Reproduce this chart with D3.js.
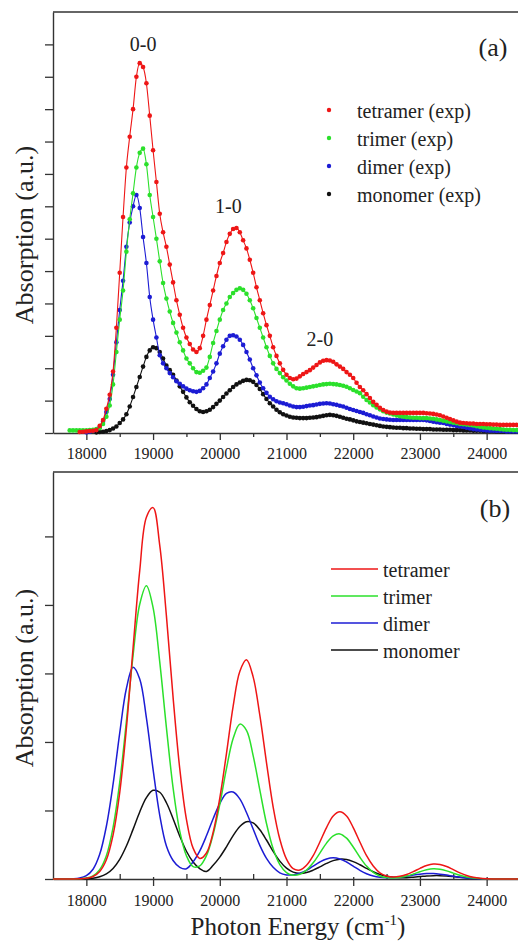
<!DOCTYPE html>
<html><head><meta charset="utf-8">
<script src="https://cdn.jsdelivr.net/npm/d3@7"></script>
<style>
body{margin:0;background:#fff}
</style>
</head><body><svg id="c" width="518" height="942"></svg>
<script>
// ---------- DATA ----------
const energyExp = [
17750,17800,17850,17900,17950,18000,18050,18100,18150,18200,
18250,18300,18350,18400,18450,18500,18550,18600,18650,18700,
18750,18800,18850,18900,18950,19000,19050,19100,19150,19200,
19250,19300,19350,19400,19450,19500,19550,19600,19650,19700,
19750,19800,19850,19900,19950,20000,20050,20100,20150,20200,
20250,20300,20350,20400,20450,20500,20550,20600,20650,20700,
20750,20800,20850,20900,20950,21000,21050,21100,21150,21200,
21250,21300,21350,21400,21450,21500,21550,21600,21650,21700,
21750,21800,21850,21900,21950,22000,22050,22100,22150,22200,
22250,22300,22350,22400,22450,22500,22550,22600,22650,22700,
22750,22800,22850,22900,22950,23000,23050,23100,23150,23200,
23250,23300,23350,23400,23450,23500,23550,23600,23650,23700,
23750,23800,23850,23900,23950,24000,24050,24100,24150,24200,
24250,24300,24350,24400,24450,24500];
const tetramerExp = [
null,null,null,0.03,0.04,0.05,0.06,0.07,0.09,0.22,
0.40,0.75,1.18,1.9,3.25,4.95,6.67,8.2,9.15,10.0,
11.0,11.42,11.3,10.8,9.8,8.73,7.75,6.77,6.2,5.75,
5.2,4.65,4.1,3.65,3.25,2.95,2.75,2.58,2.5,2.62,
3.0,3.5,3.95,4.4,4.85,5.25,5.56,5.9,6.15,6.3,
6.33,6.2,5.95,5.7,5.35,4.95,4.5,4.1,3.7,3.33,
3.0,2.65,2.38,2.15,1.95,1.8,1.7,1.66,1.68,1.75,
1.82,1.88,1.94,2.02,2.1,2.18,2.23,2.25,2.24,2.2,
2.12,2.05,1.98,1.88,1.8,1.7,1.55,1.42,1.32,1.2,
1.08,0.96,0.87,0.78,0.71,0.66,0.63,0.62,0.62,0.62,
0.62,0.62,0.62,0.62,0.62,0.62,0.62,0.61,0.6,0.59,
0.57,0.55,0.51,0.47,0.43,0.39,0.35,0.32,0.31,0.3,
0.29,0.29,0.28,0.28,0.28,0.27,0.27,0.26,0.26,0.25,
0.25,0.25,0.25,0.25,0.25,0.25];
const trimerExp = [
0.08,0.08,0.08,0.08,0.08,0.08,0.09,0.1,0.12,0.15,
0.28,0.5,0.85,1.5,2.5,3.5,4.4,5.6,6.6,7.4,
8.2,8.65,8.78,8.3,7.35,6.67,6.0,5.3,4.63,4.15,
3.75,3.4,3.1,2.8,2.55,2.3,2.15,2.0,1.88,1.86,
1.92,2.02,2.35,2.78,3.15,3.5,3.8,4.0,4.2,4.32,
4.42,4.47,4.42,4.3,4.1,3.85,3.55,3.25,2.95,2.65,
2.38,2.15,1.98,1.85,1.72,1.62,1.52,1.44,1.38,1.37,
1.38,1.4,1.42,1.44,1.46,1.48,1.5,1.51,1.52,1.51,
1.5,1.48,1.46,1.43,1.38,1.33,1.28,1.23,1.12,1.02,
0.94,0.86,0.79,0.73,0.67,0.63,0.6,0.57,0.54,0.52,
0.5,0.49,0.48,0.47,0.47,0.46,0.46,0.46,0.45,0.44,
0.42,0.4,0.38,0.36,0.34,0.32,0.3,0.28,0.27,0.26,
0.25,0.23,0.21,0.19,0.17,0.16,0.15,0.14,0.13,0.12,
0.11,0.1,0.1,0.09,0.09,0.09];
const dimerExp = [
null,null,null,null,null,0.02,0.04,0.07,0.1,0.18,
0.35,0.65,1.05,1.8,2.8,3.8,4.7,5.75,6.5,7.0,
7.35,6.95,6.05,5.25,4.2,3.5,2.95,2.4,2.15,2.0,
1.85,1.72,1.6,1.52,1.44,1.37,1.32,1.29,1.27,1.3,
1.38,1.5,1.7,1.9,2.15,2.45,2.68,2.88,3.0,3.02,
2.98,2.88,2.72,2.5,2.27,2.0,1.78,1.56,1.38,1.24,
1.12,1.04,0.98,0.94,0.92,0.89,0.85,0.82,0.8,0.8,
0.81,0.83,0.85,0.86,0.88,0.9,0.91,0.92,0.91,0.89,
0.87,0.84,0.82,0.78,0.74,0.71,0.68,0.65,0.62,0.58,
0.55,0.51,0.48,0.45,0.43,0.42,0.41,0.4,0.4,0.4,
0.4,0.4,0.4,0.4,0.4,0.4,0.4,0.39,0.37,0.35,
0.33,0.32,0.31,0.28,0.26,0.24,0.22,0.2,0.19,0.16,
0.14,0.12,0.11,0.1,0.09,0.08,0.07,0.07,0.06,0.06,
0.06,0.05,0.05,0.05,0.05,0.05];
const monomerExp = [
null,null,null,null,null,null,null,null,0.02,0.03,
0.04,0.06,0.09,0.14,0.2,0.31,0.42,0.58,0.82,1.11,
1.42,1.73,2.05,2.35,2.55,2.65,2.62,2.5,2.3,2.08,
1.94,1.8,1.62,1.44,1.27,1.1,0.95,0.84,0.74,0.67,
0.65,0.67,0.72,0.8,0.9,1.0,1.11,1.22,1.32,1.42,
1.5,1.56,1.61,1.64,1.63,1.58,1.48,1.36,1.2,1.05,
0.92,0.82,0.72,0.64,0.58,0.54,0.5,0.48,0.47,0.46,
0.46,0.46,0.47,0.48,0.49,0.51,0.53,0.55,0.56,0.55,
0.53,0.5,0.47,0.44,0.42,0.39,0.36,0.34,0.32,0.3,
0.28,0.26,0.24,0.22,0.2,0.19,0.18,0.17,0.16,0.16,
0.15,0.15,0.14,0.14,0.13,0.13,0.12,0.12,0.12,0.11,
0.11,0.11,0.1,0.1,0.1,0.09,0.09,0.09,0.08,0.08,
0.08,0.07,0.07,0.07,0.06,0.06,0.06,0.06,0.05,0.05,
0.05,0.05,0.05,0.05,0.05,0.05];

const energyTheory = [
17500,17600,17700,17800,17900,18000,18100,18200,18300,18400,
18500,18600,18700,18800,18900,19000,19100,19200,19300,19400,
19500,19600,19700,19800,19900,20000,20100,20200,20300,20400,
20500,20600,20700,20800,20900,21000,21100,21200,21300,21400,
21500,21600,21700,21800,21900,22000,22100,22200,22300,22400,
22500,22600,22700,22800,22900,23000,23100,23200,23300,23400,
23500,23600,23700,23800,23900,24000,24100,24200,24300,24400,
24500];
const tetramerTheory = [
0,0,0,0,0.003,0.011,0.037,0.11,0.28,0.64,
1.26,2.2,3.37,4.5,5.28,5.42,4.87,3.84,2.65,1.61,
0.87,0.45,0.30,0.38,0.68,1.18,1.83,2.52,3.03,3.2,
2.95,2.39,1.7,1.05,0.58,0.29,0.15,0.13,0.2,0.34,
0.54,0.75,0.92,0.98,0.92,0.75,0.54,0.34,0.19,0.09,
0.045,0.03,0.04,0.065,0.107,0.155,0.197,0.219,0.213,0.182,
0.136,0.089,0.051,0.026,0.011,0.004,0.001,0,0,0,
0];
const trimerTheory = [
0,0,0,0.001,0.004,0.014,0.047,0.137,0.34,0.75,
1.41,2.30,3.26,4.01,4.28,3.96,3.17,2.21,1.33,0.70,
0.34,0.18,0.19,0.34,0.65,1.09,1.61,2.05,2.26,2.17,
1.80,1.30,0.81,0.44,0.21,0.094,0.055,0.069,0.13,0.236,
0.378,0.524,0.63,0.658,0.596,0.467,0.318,0.188,0.097,0.044,
0.02,0.015,0.024,0.043,0.072,0.106,0.135,0.15,0.143,0.119,
0.086,0.054,0.029,0.014,0.006,0.002,0,0,0,0,
0];
const dimerTheory = [
0,0,0.001,0.003,0.014,0.049,0.143,0.36,0.77,1.38,
2.13,2.78,3.09,2.92,2.35,1.60,0.93,0.48,0.27,0.17,
0.15,0.25,0.41,0.63,0.88,1.10,1.25,1.27,1.17,0.97,
0.73,0.49,0.30,0.17,0.09,0.06,0.06,0.085,0.127,0.188,
0.248,0.293,0.31,0.293,0.248,0.188,0.127,0.077,0.043,0.024,
0.017,0.018,0.026,0.04,0.057,0.071,0.079,0.079,0.071,0.057,
0.04,0.026,0.015,0.008,0.004,0.001,0,0,0,0,
0];
const monomerTheory = [
0,0,0,0,0.001,0.004,0.012,0.032,0.074,0.154,
0.287,0.481,0.724,0.978,1.187,1.294,1.266,1.113,0.88,0.626,
0.405,0.248,0.15,0.11,0.2,0.32,0.47,0.633,0.767,0.836,
0.818,0.719,0.569,0.404,0.261,0.158,0.10,0.082,0.094,0.129,
0.176,0.227,0.268,0.289,0.284,0.254,0.208,0.155,0.105,0.066,
0.039,0.024,0.018,0.02,0.027,0.035,0.044,0.049,0.049,0.044,
0.035,0.025,0.016,0.009,0.005,0.002,0,0,0,0,
0];

const xMajorTicks = [18000,19000,20000,21000,22000,23000,24000];
const xMinorTicks = [18500,19500,20500,21500,22500,23500,24500];
const yTicksA = [0,1,2,3,4,5,6,7,8,9,10,11,12];
const yTicksB = [0,1,2,3,4,5];
const seriesNames = ["tetramer","trimer","dimer","monomer"];
const legendLabelsA = ["tetramer (exp)","trimer (exp)","dimer (exp)","monomer (exp)"];
const legendLabelsB = ["tetramer","trimer","dimer","monomer"];
const peakLabels = ["0-0","1-0","2-0"];

// ---------- DRAW ----------
const FONT = "'Liberation Serif', 'Times New Roman', serif";
const colors = ["#ee1616","#2be02b","#1c1cd4","#111111"];
const svg = d3.select("#c");
const W = 518;
const x = d3.scaleLinear().domain([17500,24500]).range([53,520]);
const yA = d3.scaleLinear().domain([0,13]).range([433,12]);
const yB = d3.scaleLinear().domain([0,5.94]).range([879,472]);
const axisColor = "#333";

function styleAxis(g){
  g.selectAll("path.domain").attr("stroke",axisColor).attr("stroke-width",1.4);
  g.selectAll("line").attr("stroke",axisColor).attr("stroke-width",1.3);
  g.selectAll("text").attr("font-size",16).attr("fill","#222");
}

function frame(y, labelPad, minorInward){
  const y0 = y.range()[0], yTop = y.range()[1];
  svg.append("line").attr("x1",x.range()[0]).attr("x2",W).attr("y1",yTop).attr("y2",yTop)
    .attr("stroke",axisColor).attr("stroke-width",1.4);
  const gx = svg.append("g").attr("transform",`translate(0,${y0})`)
    .call(d3.axisBottom(x).tickValues(xMajorTicks).tickSize(7).tickSizeOuter(0).tickPadding(labelPad).tickFormat(d3.format("d")));
  styleAxis(gx);
  if(minorInward){ gx.selectAll(".tick line").attr("y1",-2); }
  const gm = svg.append("g").attr("transform",`translate(0,${y0})`)
    .call((minorInward? d3.axisTop(x).tickSize(5) : d3.axisBottom(x).tickSize(4)).tickValues(xMinorTicks).tickSizeOuter(0).tickFormat(""));
  styleAxis(gm); gm.select("path.domain").remove();
}

// ---- Panel (a) ----
frame(yA, 8, false);
const gyA = svg.append("g").attr("transform",`translate(${x.range()[0]},0)`)
  .call(d3.axisLeft(yA).tickValues(yTicksA).tickSize(8).tickSizeOuter(0).tickFormat(""));
styleAxis(gyA);

const expSeries = [tetramerExp, trimerExp, dimerExp, monomerExp];
const lineA = d3.line().defined(d=>d[1]!==null).x(d=>x(d[0])).y(d=>yA(d[1])).curve(d3.curveMonotoneX);
[3,2,1,0].forEach(i=>{
  const pts = energyExp.map((e,k)=>[e, expSeries[i][k]]);
  svg.append("path").datum(pts).attr("d",lineA).attr("fill","none")
    .attr("stroke",colors[i]).attr("stroke-width",1.1);
  svg.append("g").selectAll("circle").data(pts.filter(d=>d[1]!==null)).join("circle")
    .attr("cx",d=>x(d[0])).attr("cy",d=>yA(d[1])).attr("r",2.3).attr("fill",colors[i]);
});

const peakPos = [[18850,11.8],[20130,6.8],[21500,2.7]];
peakLabels.forEach((t,i)=>{
  svg.append("text").attr("x",x(peakPos[i][0])).attr("y",yA(peakPos[i][1]))
    .attr("text-anchor","middle").attr("font-size",20).text(t);
});
svg.append("text").attr("x",493).attr("y",56).attr("text-anchor","middle").attr("font-size",26).text("(a)");

legendLabelsA.forEach((t,i)=>{
  const by = 118 + i*28;
  svg.append("circle").attr("cx",329).attr("cy",by-8).attr("r",2.2).attr("fill",colors[i]);
  svg.append("text").attr("x",357).attr("y",by).attr("font-size",20).text(t);
});

svg.append("text").attr("transform","translate(33,235) rotate(-90)")
  .attr("text-anchor","middle").attr("font-size",26).text("Absorption (a.u.)");

// ---- Panel (b) ----
frame(yB, 9, true);
const gyB = svg.append("g").attr("transform",`translate(${x.range()[0]},0)`)
  .call(d3.axisLeft(yB).tickValues(yTicksB).tickSize(8).tickSizeOuter(0).tickFormat(""));
styleAxis(gyB);

const thSeries = [tetramerTheory, trimerTheory, dimerTheory, monomerTheory];
const lineB = d3.line().x(d=>x(d[0])).y(d=>yB(Math.max(0,d[1]))).curve(d3.curveCatmullRom.alpha(0.5));
[3,2,1,0].forEach(i=>{
  const pts = energyTheory.map((e,k)=>[e, thSeries[i][k]]);
  svg.append("path").datum(pts).attr("d",lineB).attr("fill","none")
    .attr("stroke",colors[i]).attr("stroke-width",1.5);
});

svg.append("text").attr("x",495).attr("y",517).attr("text-anchor","middle").attr("font-size",26).text("(b)");

legendLabelsB.forEach((t,i)=>{
  const by = 577 + i*27;
  svg.append("line").attr("x1",331).attr("x2",378).attr("y1",by-8).attr("y2",by-8)
    .attr("stroke",colors[i]).attr("stroke-width",1.5);
  svg.append("text").attr("x",383).attr("y",by).attr("font-size",20).text(t);
});

svg.append("text").attr("transform","translate(33,678) rotate(-90)")
  .attr("text-anchor","middle").attr("font-size",26).text("Absorption (a.u.)");

const xt = svg.append("text").attr("x",298).attr("y",935).attr("text-anchor","middle").attr("font-size",25);
xt.append("tspan").text("Photon Energy (cm");
xt.append("tspan").attr("dy",-10).attr("font-size",15).text("-1");
xt.append("tspan").attr("dy",10).text(")");

svg.selectAll("text").style("font-family",FONT).style("fill","#222");
</script>
</body></html>
